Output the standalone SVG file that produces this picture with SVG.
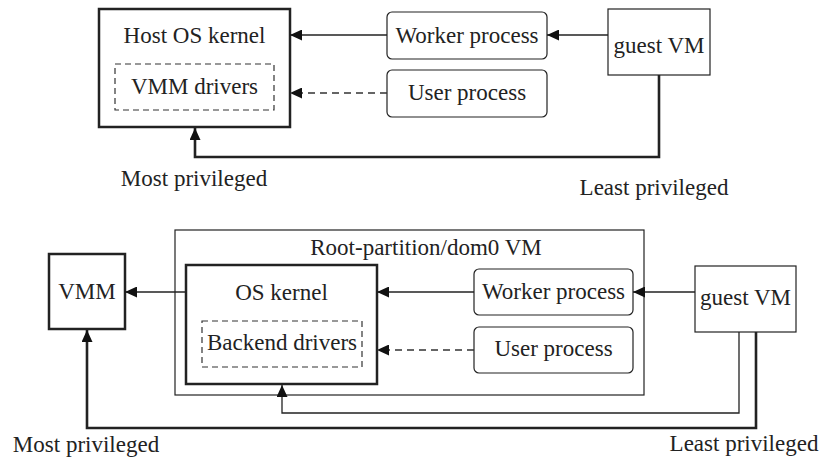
<svg xmlns="http://www.w3.org/2000/svg" width="822" height="458" viewBox="0 0 822 458">
<defs>
<style>
text{font-family:"Liberation Serif","Times New Roman",serif;font-size:23px;fill:#222;text-anchor:middle}
.thick{fill:#fff;stroke:#222;stroke-width:2.5}
.thin{fill:#fff;stroke:#222;stroke-width:1.2}
.dash{fill:none;stroke:#333;stroke-width:1.2;stroke-dasharray:6 4}
.c{fill:none;stroke:#222;stroke-width:1.3}
.cd{fill:none;stroke:#333;stroke-width:1.3;stroke-dasharray:7 5}
.ct{fill:none;stroke:#222;stroke-width:2.6}
</style>
<marker id="ah" markerUnits="userSpaceOnUse" markerWidth="13" markerHeight="11" refX="12" refY="5.5" orient="auto">
<path d="M0,0 L12,5.5 L0,11 z" fill="#111"/>
</marker>
</defs>
<rect width="822" height="458" fill="#fff"/>

<!-- Top diagram -->
<g id="host-kernel">
<rect class="thick" x="99" y="9" width="191" height="118"/>
<text x="194.5" y="43">Host OS kernel</text>
</g>
<g id="vmm-drivers">
<rect class="dash" x="115" y="64" width="159" height="46"/>
<text x="194.5" y="94">VMM drivers</text>
</g>
<g id="worker-top">
<rect class="thin" x="387" y="12" width="160" height="47" rx="5"/>
<text x="467" y="43">Worker process</text>
</g>
<g id="user-top">
<rect class="thin" x="387" y="70" width="160" height="47" rx="5"/>
<text x="467" y="100">User process</text>
</g>
<g id="guest-top">
<rect class="thin" x="608" y="9" width="102" height="66"/>
<text x="659" y="53">guest VM</text>
</g>
<g id="labels-top">
<text x="194" y="186">Most privileged</text>
<text x="654" y="195">Least privileged</text>
</g>

<!-- Bottom diagram -->
<g id="vmm">
<rect class="thick" x="49" y="254" width="76" height="75"/>
<text x="87" y="299">VMM</text>
</g>
<g id="root-partition">
<rect class="thin" x="175" y="230" width="469" height="165"/>
<text x="426" y="255">Root-partition/dom0 VM</text>
</g>
<g id="os-kernel">
<rect class="thick" x="186" y="265" width="191" height="119"/>
<text x="281.5" y="300">OS kernel</text>
</g>
<g id="backend-drivers">
<rect class="dash" x="202" y="321" width="160" height="46"/>
<text x="282" y="350">Backend drivers</text>
</g>
<g id="worker-bottom">
<rect class="thin" x="474" y="269" width="159" height="46" rx="5"/>
<text x="553.5" y="299">Worker process</text>
</g>
<g id="user-bottom">
<rect class="thin" x="474" y="327" width="159" height="46" rx="5"/>
<text x="553.5" y="356">User process</text>
</g>
<g id="guest-bottom">
<rect class="thin" x="695" y="266" width="101" height="66"/>
<text x="745.5" y="305">guest VM</text>
</g>
<g id="labels-bottom">
<text x="86" y="452">Most privileged</text>
<text x="744" y="451">Least privileged</text>
</g>

<g id="connectors">
<line class="c" x1="608" y1="35" x2="547" y2="35" marker-end="url(#ah)"/>
<line class="c" x1="387" y1="35" x2="290" y2="35" marker-end="url(#ah)"/>
<line class="cd" x1="387" y1="93" x2="290" y2="93" marker-end="url(#ah)"/>
<path class="ct" d="M659,75 V157 H195 V128" marker-end="url(#ah)"/>

<line class="c" x1="695" y1="292" x2="633" y2="292" marker-end="url(#ah)"/>
<line class="c" x1="474" y1="292" x2="377" y2="292" marker-end="url(#ah)"/>
<line class="cd" x1="474" y1="350" x2="377" y2="350" marker-end="url(#ah)"/>
<line class="c" x1="186" y1="292" x2="125" y2="292" marker-end="url(#ah)"/>
<path class="c" d="M739,332 V413 H282 V385" marker-end="url(#ah)"/>
<path class="ct" d="M756,332 V428 H87 V330" marker-end="url(#ah)"/>
</g>
</svg>
